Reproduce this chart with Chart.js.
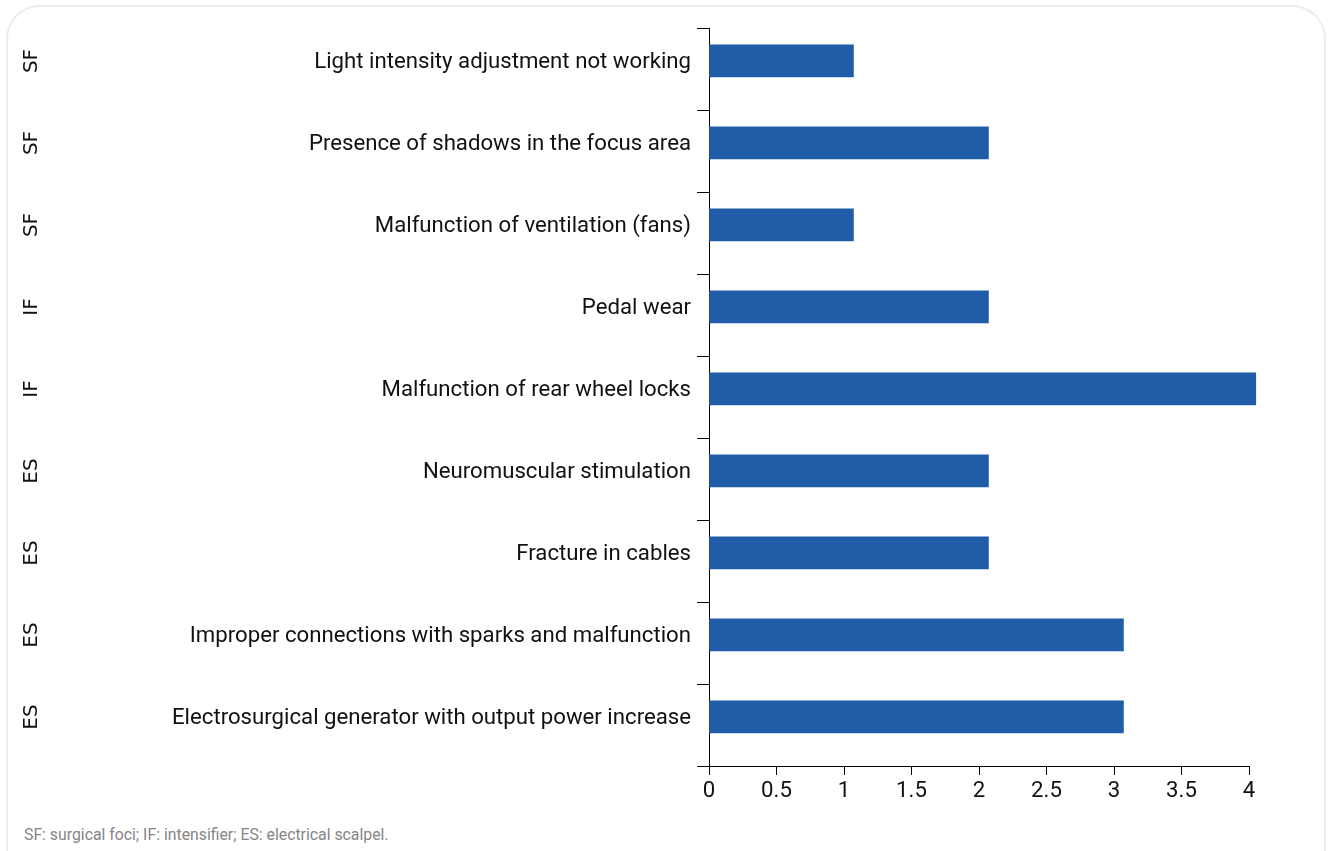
<!DOCTYPE html>
<html>
<head>
<meta charset="utf-8">
<script src="https://cdn.jsdelivr.net/npm/chart.js@4.4.1/dist/chart.umd.min.js"></script>
<style>
    html, body { margin: 0; padding: 0; background: #fff; }
    body { width: 1330px; height: 851px; position: relative; overflow: hidden; }
    #frame {
        position: absolute; left: 6px; top: 5px; width: 1320px; height: 900px;
        border: 2px solid #ececec; border-radius: 34px; box-sizing: border-box;
    }
    #chartBox { position: absolute; left: 0; top: 0; width: 1330px; height: 806px; }
    #note {
        position: absolute; left: 24px; top: 825px;
        font-family: Roboto, sans-serif; font-size: 15.8px; color: #858585;
    }
</style>
</head>
<body>
<div id="frame"></div>
<div id="chartBox"><canvas id="failureChart"></canvas></div>
<div id="note">SF: surgical foci; IF: intensifier; ES: electrical scalpel.</div>

<script>
// Chart data
const categories = [
    'Light intensity adjustment not working',
    'Presence of shadows in the focus area',
    'Malfunction of ventilation (fans)',
    'Pedal wear',
    'Malfunction of rear wheel locks',
    'Neuromuscular stimulation',
    'Fracture in cables',
    'Improper connections with sparks and malfunction',
    'Electrosurgical generator with output power increase'
];
const groups = ['SF', 'SF', 'SF', 'IF', 'IF', 'ES', 'ES', 'ES', 'ES'];
const failureCounts = [1.07, 2.07, 1.07, 2.07, 4.05, 2.07, 2.07, 3.07, 3.07];

const labelFont = { family: 'Roboto, sans-serif', size: 22.2 };

// bars are placed on a hidden linear axis so they sit slightly above the band centres
let barPoints = failureCounts.map((v, i) => ({ x: v, y: i }));

let ctx = document.getElementById('failureChart').getContext('2d');

let failureChart = new Chart(ctx, {
    type: 'bar',
    data: {
        labels: categories,
        datasets: [{
            data: barPoints,
            xAxisID: 'x',
            yAxisID: 'yBar',
            backgroundColor: '#205ca7',
            borderWidth: 0,
            barThickness: 32,
            clip: false
        }]
    },
    options: {
        indexAxis: 'y',
        responsive: true,
        maintainAspectRatio: false,
        animation: false,
        layout: { padding: { top: 28, right: 81, left: 0, bottom: 0 } },
        plugins: {
            legend: { display: false },
            tooltip: { enabled: false }
        },
        scales: {
            y: {
                type: 'category',
                position: 'left',
                offset: true,
                grid: {
                    offset: true,
                    drawOnChartArea: false,
                    tickLength: 12,
                    color: '#000',
                    tickColor: '#000'
                },
                border: { color: '#000', width: 1 },
                ticks: {
                    padding: 6,
                    labelOffset: -7,
                    color: '#111',
                    font: labelFont
                },
                afterFit: (scale) => { scale.width = 649; }
            },
            groupAxis: {
                type: 'category',
                axis: 'y',
                position: 'left',
                labels: categories,
                offset: true,
                grid: { display: false, drawTicks: false },
                border: { display: false },
                ticks: {
                    callback: (v, i) => groups[i],
                    minRotation: 90,
                    maxRotation: 90,
                    crossAlign: 'center',
                    labelOffset: -8,
                    padding: 16,
                    color: '#111',
                    font: { family: '"DejaVu Sans", sans-serif', size: 20 }
                },
                afterFit: (scale) => { scale.width = 60; }
            },
            yBar: {
                type: 'linear',
                axis: 'y',
                display: false,
                reverse: true,
                offset: false,
                min: -0.4,
                max: 8.6
            },
            x: {
                type: 'linear',
                position: 'bottom',
                min: 0,
                max: 4,
                grid: {
                    drawOnChartArea: false,
                    tickLength: 9,
                    color: '#000',
                    tickColor: '#000'
                },
                border: { color: '#000', width: 1 },
                ticks: {
                    stepSize: 0.5,
                    padding: 3,
                    color: '#111',
                    font: labelFont,
                    callback: (v) => String(v)
                },
                afterFit: (scale) => { scale.height = 40; }
            }
        }
    }
});
</script>
</body>
</html>
